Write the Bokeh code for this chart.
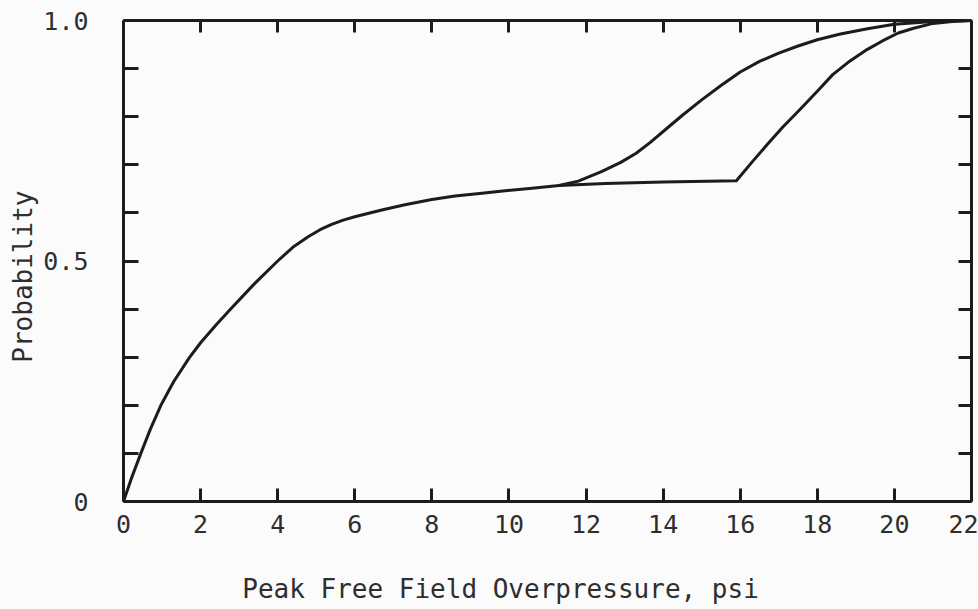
from bokeh.plotting import figure
from bokeh.models import LinearAxis, FixedTicker, Range1d
from bokeh.embed import file_html
from bokeh.resources import INLINE

# ---- data ----
common_x = [0, 0.2, 0.45, 0.7, 0.97, 1.3, 1.7, 2.0, 2.4, 2.78, 3.4, 4.0, 4.4, 4.8, 5.1, 5.4,
            5.7, 6.0, 6.7, 7.3, 8.0, 8.6, 9.3, 9.9, 10.6, 11.3]
common_y = [0, 0.047, 0.10, 0.151, 0.20, 0.249, 0.298, 0.330, 0.367, 0.40, 0.453, 0.50, 0.529,
            0.551, 0.565, 0.576, 0.585, 0.592, 0.606, 0.617, 0.628, 0.635, 0.641, 0.646, 0.651,
            0.657]

upper_x = [11.3, 11.8, 12.4, 12.9, 13.3, 13.66, 14.1, 14.5, 15.0, 15.5, 16.0, 16.5, 17.0,
           17.5, 18.0, 18.6, 19.3, 20.0, 21.0, 22.0]
upper_y = [0.657, 0.666, 0.686, 0.705, 0.724, 0.746, 0.776, 0.803, 0.835, 0.865, 0.893, 0.915,
           0.932, 0.947, 0.96, 0.972, 0.983, 0.992, 0.998, 1.0]

lower_x = [11.3, 12.5, 14.0, 15.9, 16.3, 16.7, 17.1, 17.55, 18.0, 18.4, 18.8, 19.3, 19.7,
           20.1, 20.5, 21.0, 21.5, 22.0]
lower_y = [0.657, 0.661, 0.664, 0.667, 0.705, 0.742, 0.778, 0.815, 0.853, 0.8875, 0.913, 0.94,
           0.958, 0.974, 0.984, 0.994, 0.998, 1.0]

x_ticks = [0, 2, 4, 6, 8, 10, 12, 14, 16, 18, 20, 22]
y_major_ticks = [0, 0.5, 1.0]
y_minor_ticks = [0.1, 0.2, 0.3, 0.4, 0.6, 0.7, 0.8, 0.9]
y_tick_labels = {0: "0", 0.5: "0.5", 1: "1.0"}

x_title = "Peak Free Field Overpressure, psi"
y_title = "Probability"

# ---- styling ----
INK = "#1c1c1c"
TEXT = "#2e2e2e"
BG = "#fbfbfb"
FONT = "DejaVu Sans Mono"
NBSP = "\u00a0"

p = figure(width=978, height=609,
           x_range=Range1d(0, 22), y_range=Range1d(0, 1),
           output_backend="svg", toolbar_location=None,
           min_border_left=123, min_border_right=7,
           min_border_top=20, min_border_bottom=108,
           background_fill_color=BG, border_fill_color=BG)
p.grid.visible = False
p.outline_line_color = None

for xs, ys in ((common_x, common_y), (upper_x, upper_y), (lower_x, lower_y)):
    p.line(xs, ys, line_color=INK, line_width=3, line_join="round", line_cap="round")


def style(ax, tick_len, minor_len=0):
    ax.axis_line_color = INK
    ax.axis_line_width = 3
    ax.major_tick_line_color = INK
    ax.major_tick_line_width = 3
    ax.major_tick_in = tick_len
    ax.major_tick_out = 0
    ax.minor_tick_line_color = INK
    ax.minor_tick_line_width = 3
    ax.minor_tick_in = minor_len
    ax.minor_tick_out = 0
    ax.major_label_text_font = FONT
    ax.major_label_text_color = TEXT
    ax.major_label_text_font_size = "25px"
    ax.axis_label_text_font = FONT
    ax.axis_label_text_font_size = "26px"
    ax.axis_label_text_font_style = "normal"
    ax.axis_label_text_color = TEXT


# bottom axis (title padded so it sits left of centre, as in the original)
xb = p.xaxis[0]
xb.ticker = FixedTicker(ticks=x_ticks)
style(xb, 13)
xb.major_label_standoff = 13
xb.axis_label = x_title + NBSP * 6
xb.axis_label_standoff = 38

# left axis
yl = p.yaxis[0]
yl.ticker = FixedTicker(ticks=y_major_ticks, minor_ticks=y_minor_ticks)
style(yl, 15, 15)
yl.major_label_standoff = 35
yl.major_label_overrides = y_tick_labels
yl.axis_label = y_title + NBSP * 2
yl.axis_label_standoff = 2

# top axis (ticks only)
xt = LinearAxis(ticker=FixedTicker(ticks=x_ticks))
style(xt, 12)
xt.major_label_standoff = 0
xt.major_label_overrides = {t: "" for t in x_ticks}
p.add_layout(xt, "above")

# right axis (ticks only)
yr = LinearAxis(ticker=FixedTicker(ticks=y_major_ticks, minor_ticks=y_minor_ticks))
style(yr, 13, 13)
yr.major_label_standoff = 0
yr.major_label_overrides = {t: "" for t in y_major_ticks}
p.add_layout(yr, "right")

open("out.html", "w").write(file_html(p, INLINE))
